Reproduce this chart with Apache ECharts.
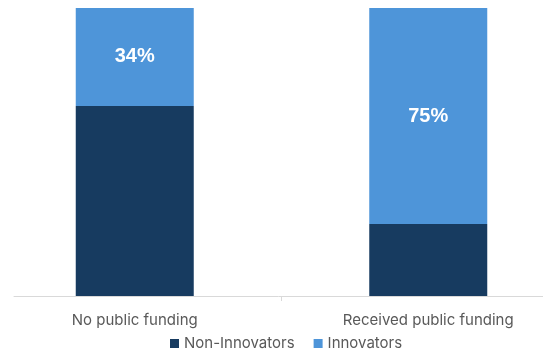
<!DOCTYPE html>
<html>
<head>
<meta charset="utf-8">
<script src="https://cdn.jsdelivr.net/npm/echarts@6/dist/echarts.min.js"></script>
<style>
  html, body { margin: 0; padding: 0; background: #ffffff; }
  #chart { width: 543px; height: 351px; }
</style>
</head>
<body>
<div id="chart"></div>
<script>
// Share of firms that innovate, by public funding status (percent)
const categories = ['No public funding', 'Received public funding'];
const nonInnovators = [66, 25];
const innovators = [34, 75];
const seriesNames = ['Non-Innovators', 'Innovators'];

const navy = '#173B60';
const blue = '#4E95D9';
const textGrey = '#595959';
const axisGrey = '#d9d9d9';
const fontFamily = 'Inter, "Noto Sans", sans-serif';

const chart = echarts.init(document.getElementById('chart'), null, { renderer: 'canvas' });

chart.setOption({
  animation: false,
  textStyle: { fontFamily: fontFamily },
  grid: [
    // plot area for the bars; its category bands run past the page edges
    { left: -12, right: -32, top: 8, bottom: 55, outerBoundsMode: 'none' },
    // baseline of the chart, visible part only
    { left: 14, right: 0, top: 8, bottom: 55, outerBoundsMode: 'none' }
  ],
  xAxis: [
    {
      type: 'category',
      gridIndex: 0,
      data: categories,
      axisLine: { show: false },
      axisTick: { show: true, length: 5, lineStyle: { color: axisGrey } },
      axisLabel: { color: textGrey, fontSize: 15, margin: 17, fontFamily: fontFamily }
    },
    {
      type: 'value',
      gridIndex: 1,
      min: 0,
      max: 1,
      axisLine: { show: true, lineStyle: { color: axisGrey, width: 1 } },
      axisTick: { show: false },
      axisLabel: { show: false },
      splitLine: { show: false }
    }
  ],
  yAxis: [
    { type: 'value', gridIndex: 0, min: 0, max: 100, show: false, splitLine: { show: false } },
    { type: 'value', gridIndex: 1, min: 0, max: 1, show: false, splitLine: { show: false } }
  ],
  legend: {
    data: seriesNames,
    top: 331,
    left: 165,
    itemWidth: 9,
    itemHeight: 9,
    itemGap: 19,
    icon: 'rect',
    textStyle: { color: textGrey, fontSize: 15, fontFamily: fontFamily }
  },
  series: [
    {
      name: seriesNames[0],
      type: 'bar',
      stack: 'share',
      data: nonInnovators,
      barWidth: 118,
      itemStyle: { color: navy },
      label: { show: false }
    },
    {
      name: seriesNames[1],
      type: 'bar',
      stack: 'share',
      data: innovators,
      barWidth: 118,
      itemStyle: { color: blue },
      label: {
        show: true,
        position: 'inside',
        color: '#ffffff',
        fontWeight: 'bold',
        fontSize: 20,
        fontFamily: '"Liberation Sans", Arial, sans-serif',
        formatter: (p) => p.value + '%'
      }
    }
  ]
});
</script>
</body>
</html>
